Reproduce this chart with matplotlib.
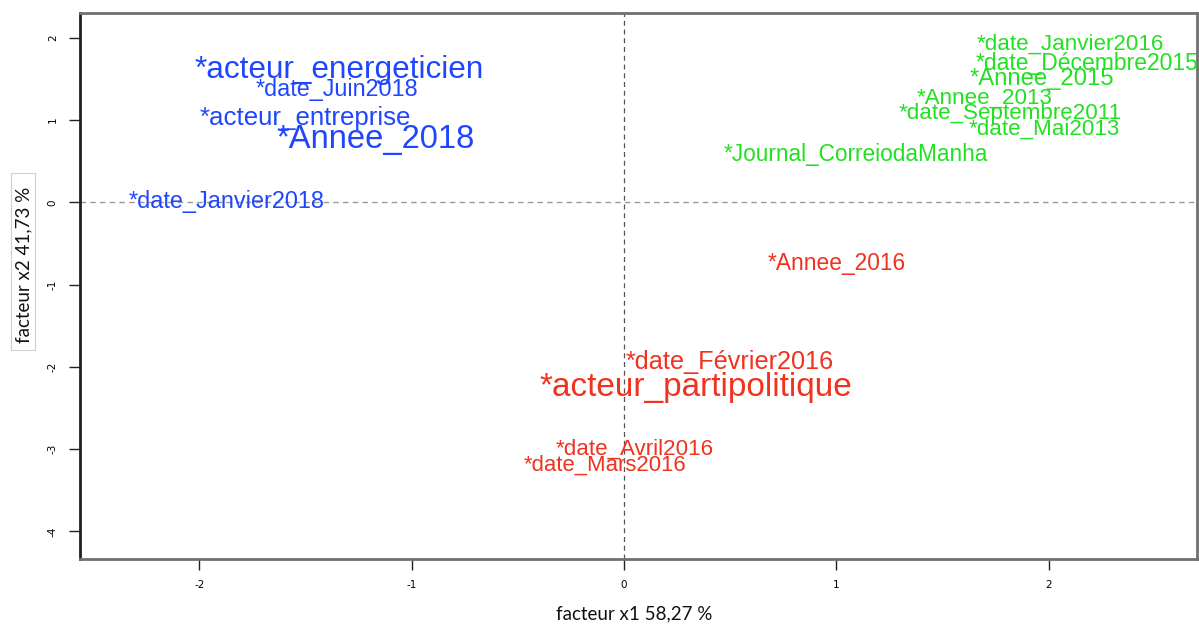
import matplotlib
matplotlib.use("Agg")
import matplotlib.pyplot as plt
from matplotlib.patches import Rectangle

# Modalities projected on the first two factors
labels = [
    "*acteur_energeticien", "*date_Juin2018", "*acteur_entreprise", "*Annee_2018",
    "*date_Janvier2018",
    "*date_Janvier2016", "*date_Décembre2015", "*Annee_2015", "*Annee_2013",
    "*date_Septembre2011", "*date_Mai2013", "*Journal_CorreiodaManha",
    "*Annee_2016", "*date_Février2016", "*acteur_partipolitique",
    "*date_Avril2016", "*date_Mars2016",
]
x1 = [-1.34, -1.35, -1.50, -1.17, -1.87,
      2.10, 2.18, 1.97, 1.70, 1.82, 1.98, 1.09,
      1.00, 0.50, 0.34, 0.05, -0.09]
x2 = [1.65, 1.40, 1.06, 0.81, 0.045,
      1.95, 1.72, 1.53, 1.30, 1.11, 0.915, 0.61,
      -0.715, -1.905, -2.21, -2.975, -3.165]
groups = [0, 0, 0, 0, 0,
          1, 1, 1, 1, 1, 1, 1,
          2, 2, 2, 2, 2]
# label size (points), larger for the strongest contributions
sizes = [22.7, 16.8, 18.6, 23.6, 16.9,
         16.1, 16.5, 17.2, 16.1, 16.1, 16.1, 16.3,
         16.4, 18.2, 24.0, 16.1, 15.9]
group_colors = ["#1E46FF", "#22E022", "#F0321E"]

x_ticks = [-2, -1, 0, 1, 2]
y_ticks = [-4, -3, -2, -1, 0, 1, 2]
x_title = "facteur x1 58,27 %"
y_title = "facteur x2 41,73 %"

W, H = 1199, 624
fig = plt.figure(figsize=(W / 100, H / 100), dpi=100)
ax = fig.add_axes([0.0667, 0.1042, 0.9316, 0.8754])
ax.set_xlim(-2.562, 2.699)
ax.set_ylim(-4.334, 2.304)

ax.axhline(0, color="#9a9a9a", lw=1.0, ls=(0, (4, 3)), zorder=1)
ax.axvline(0, color="#555555", lw=0.9, ls=(0, (4, 3)), zorder=1)

for lab, xv, yv, g, s in zip(labels, x1, x2, groups, sizes):
    ax.text(xv, yv, lab, color=group_colors[g], fontsize=s,
            family="Liberation Sans", ha="center", va="center_baseline",
            zorder=3, clip_on=False)

for side in ["top", "right", "bottom"]:
    ax.spines[side].set_color("#707070")
    ax.spines[side].set_linewidth(2.0)
ax.spines["left"].set_color("#202020")
ax.spines["left"].set_linewidth(2.0)

ax.set_xticks(x_ticks)
ax.set_yticks(y_ticks)
ax.set_xticklabels([str(v) for v in x_ticks], fontsize=7.5, family="DejaVu Sans")
ax.set_yticklabels([str(v) for v in y_ticks], fontsize=7.5, family="DejaVu Sans",
                   rotation=90, va="center")
ax.tick_params(axis="both", direction="out", length=8, width=1, color="#202020")
ax.tick_params(axis="x", pad=7)
ax.tick_params(axis="y", pad=8)

fig.text(634 / W, 1 - 614 / H, x_title, ha="center", va="center",
         fontsize=13.5, family="Lato", color="#111111")
fig.patches.append(Rectangle((11 / W, 1 - 350 / H), 24 / W, 177 / H,
                             transform=fig.transFigure, fill=True, fc="white",
                             ec="#cfcfcf", lw=0.8, zorder=0))
fig.text(24 / W, 1 - 265 / H, y_title, ha="center", va="center",
         rotation=90, fontsize=13.5, family="Lato", color="#111111")

fig.savefig("out.png", dpi=100)
